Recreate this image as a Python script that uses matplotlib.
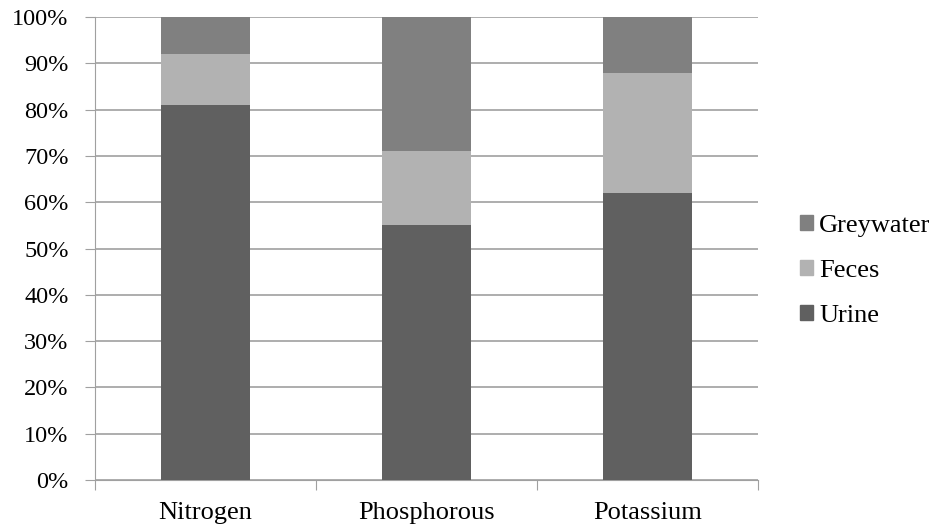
import matplotlib.pyplot as plt
from matplotlib.patches import Patch

plt.rcParams['font.family'] = ['Liberation Serif', 'DejaVu Serif']

nutrients = ['Nitrogen', 'Phosphorous', 'Potassium']
urine = [81, 55, 62]
feces = [11, 16, 26]
greywater = [8, 29, 12]

c_urine = '#606060'
c_feces = '#b2b2b2'
c_grey = '#808080'

fig = plt.figure(figsize=(9.33, 5.28), dpi=100)
ax = fig.add_axes([0.1018, 0.0909, 0.7106, 0.8769])

x = range(len(nutrients))
bottom2 = [u + f for u, f in zip(urine, feces)]
ax.bar(x, urine, width=0.4, color=c_urine, zorder=3)
ax.bar(x, feces, width=0.4, bottom=urine, color=c_feces, zorder=3)
ax.bar(x, greywater, width=0.4, bottom=bottom2, color=c_grey, zorder=3)

ax.set_xlim(-0.5, 2.5)
ax.set_ylim(0, 100)
ax.set_yticks(range(0, 101, 10))
ax.set_yticklabels([f'{v}%' for v in range(0, 101, 10)], fontsize=17.5)
ax.set_xticks([-0.5, 0.5, 1.5, 2.5])
ax.set_xticklabels([])
ax.set_xticks(list(x), minor=True)
ax.set_xticklabels(nutrients, minor=True, fontsize=19)
ax.tick_params(axis='x', which='minor', length=0, pad=16)
ax.tick_params(axis='x', which='major', length=7, color='#a0a0a0', direction='out')
ax.tick_params(axis='y', length=7, color='#a0a0a0', direction='out', pad=12)

ax.grid(axis='y', color='#a0a0a0', linewidth=1.2, zorder=0)
for s in ['top', 'right']:
    ax.spines[s].set_visible(False)
ax.spines['left'].set_color('#a0a0a0')
ax.spines['bottom'].set_color('#a0a0a0')

handles = [Patch(color=c_grey), Patch(color=c_feces), Patch(color=c_urine)]
fig.legend(handles, ['Greywater', 'Feces', 'Urine'], loc='center left',
           bbox_to_anchor=(0.832, 0.4868), frameon=False, fontsize=19,
           handlelength=0.5, handleheight=0.5, handletextpad=0.23,
           labelspacing=0.86)

plt.savefig('out.png', dpi=100)
